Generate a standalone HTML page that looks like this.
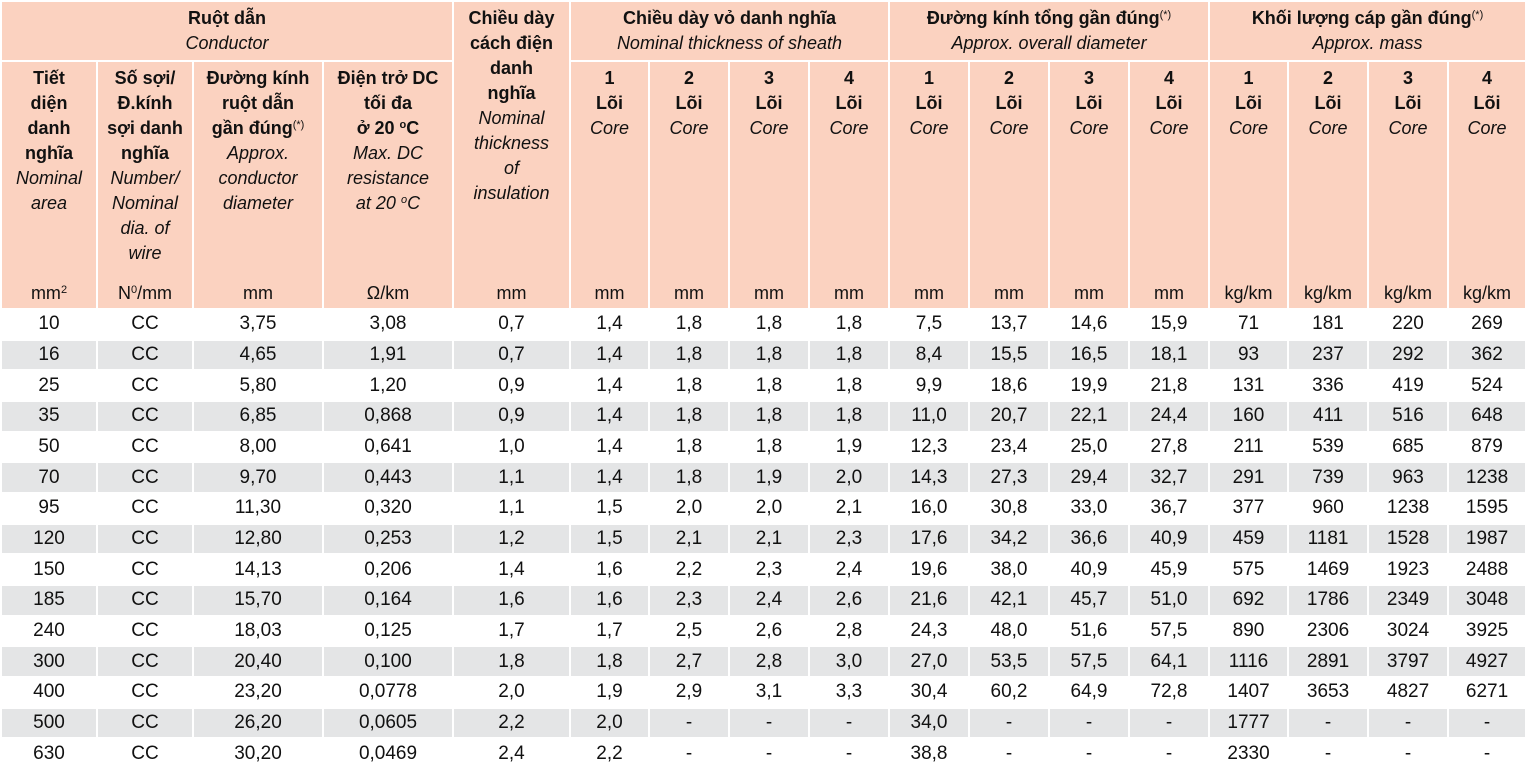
<!DOCTYPE html>
<html><head><meta charset="utf-8">
<style>
html,body{margin:0;padding:0;background:#fff;width:1525px;height:768px;overflow:hidden}
table{border-collapse:collapse;table-layout:fixed;width:1525px;font-family:"Liberation Sans",sans-serif;font-size:18px;color:#111}
td{border:2px solid #fff;text-align:center;padding:0;overflow:hidden;white-space:nowrap}
thead td{background:#fbd2c0;vertical-align:top;line-height:25px}
.h1 td{height:54px;padding-top:4px}
.h2 td{height:212px;padding-top:4px;border-bottom-style:hidden}
.h3 td{height:30px;border-top-style:hidden;vertical-align:middle;line-height:30px}
b{font-weight:bold}
i{font-style:italic}
sup{font-size:11px;vertical-align:6px;line-height:0}
tbody td{height:28.67px;line-height:26px;font-size:19px}
tbody tr:nth-child(even) td{background:#e4e5e6}
</style></head><body>
<table>
<colgroup>
<col style="width:96px"><col style="width:96px"><col style="width:130px"><col style="width:130px"><col style="width:117px">
<col style="width:79px"><col style="width:80px"><col style="width:80px"><col style="width:80px">
<col style="width:80px"><col style="width:80px"><col style="width:80px"><col style="width:80px">
<col style="width:79px"><col style="width:80px"><col style="width:80px"><col style="width:78px">
</colgroup>
<thead>
<tr class="h1">
<td colspan="4"><b>Ruột dẫn</b><br><i>Conductor</i></td>
<td rowspan="2" style="border-bottom-style:hidden"><b>Chiều dày<br>cách điện<br>danh<br>nghĩa</b><br><i>Nominal<br>thickness<br>of<br>insulation</i></td>
<td colspan="4"><b>Chiều dày vỏ danh nghĩa</b><br><i>Nominal thickness of sheath</i></td>
<td colspan="4"><b>Đường kính tổng gần đúng</b><sup>(*)</sup><br><i>Approx. overall diameter</i></td>
<td colspan="4"><b>Khối lượng cáp gần đúng</b><sup>(*)</sup><br><i>Approx. mass</i></td>
</tr>
<tr class="h2">
<td><b>Tiết<br>diện<br>danh<br>nghĩa</b><br><i>Nominal<br>area</i></td>
<td><b>Số sợi/<br>Đ.kính<br>sợi danh<br>nghĩa</b><br><i>Number/<br>Nominal<br>dia. of<br>wire</i></td>
<td><b>Đường kính<br>ruột dẫn<br>gần đúng</b><sup>(*)</sup><br><i>Approx.<br>conductor<br>diameter</i></td>
<td><b>Điện trở DC<br>tối đa<br>ở 20 <sup>o</sup>C</b><br><i>Max. DC<br>resistance<br>at 20 <sup>o</sup>C</i></td>
<td><b>1<br>Lõi</b><br><i>Core</i></td><td><b>2<br>Lõi</b><br><i>Core</i></td><td><b>3<br>Lõi</b><br><i>Core</i></td><td><b>4<br>Lõi</b><br><i>Core</i></td>
<td><b>1<br>Lõi</b><br><i>Core</i></td><td><b>2<br>Lõi</b><br><i>Core</i></td><td><b>3<br>Lõi</b><br><i>Core</i></td><td><b>4<br>Lõi</b><br><i>Core</i></td>
<td><b>1<br>Lõi</b><br><i>Core</i></td><td><b>2<br>Lõi</b><br><i>Core</i></td><td><b>3<br>Lõi</b><br><i>Core</i></td><td><b>4<br>Lõi</b><br><i>Core</i></td>
</tr>
<tr class="h3">
<td>mm<sup>2</sup></td><td>N<sup>0</sup>/mm</td><td>mm</td><td>Ω/km</td><td>mm</td>
<td>mm</td><td>mm</td><td>mm</td><td>mm</td>
<td>mm</td><td>mm</td><td>mm</td><td>mm</td>
<td>kg/km</td><td>kg/km</td><td>kg/km</td><td>kg/km</td>
</tr>
</thead>
<tbody>
<tr><td>10</td><td>CC</td><td>3,75</td><td>3,08</td><td>0,7</td><td>1,4</td><td>1,8</td><td>1,8</td><td>1,8</td><td>7,5</td><td>13,7</td><td>14,6</td><td>15,9</td><td>71</td><td>181</td><td>220</td><td>269</td></tr>
<tr><td>16</td><td>CC</td><td>4,65</td><td>1,91</td><td>0,7</td><td>1,4</td><td>1,8</td><td>1,8</td><td>1,8</td><td>8,4</td><td>15,5</td><td>16,5</td><td>18,1</td><td>93</td><td>237</td><td>292</td><td>362</td></tr>
<tr><td>25</td><td>CC</td><td>5,80</td><td>1,20</td><td>0,9</td><td>1,4</td><td>1,8</td><td>1,8</td><td>1,8</td><td>9,9</td><td>18,6</td><td>19,9</td><td>21,8</td><td>131</td><td>336</td><td>419</td><td>524</td></tr>
<tr><td>35</td><td>CC</td><td>6,85</td><td>0,868</td><td>0,9</td><td>1,4</td><td>1,8</td><td>1,8</td><td>1,8</td><td>11,0</td><td>20,7</td><td>22,1</td><td>24,4</td><td>160</td><td>411</td><td>516</td><td>648</td></tr>
<tr><td>50</td><td>CC</td><td>8,00</td><td>0,641</td><td>1,0</td><td>1,4</td><td>1,8</td><td>1,8</td><td>1,9</td><td>12,3</td><td>23,4</td><td>25,0</td><td>27,8</td><td>211</td><td>539</td><td>685</td><td>879</td></tr>
<tr><td>70</td><td>CC</td><td>9,70</td><td>0,443</td><td>1,1</td><td>1,4</td><td>1,8</td><td>1,9</td><td>2,0</td><td>14,3</td><td>27,3</td><td>29,4</td><td>32,7</td><td>291</td><td>739</td><td>963</td><td>1238</td></tr>
<tr><td>95</td><td>CC</td><td>11,30</td><td>0,320</td><td>1,1</td><td>1,5</td><td>2,0</td><td>2,0</td><td>2,1</td><td>16,0</td><td>30,8</td><td>33,0</td><td>36,7</td><td>377</td><td>960</td><td>1238</td><td>1595</td></tr>
<tr><td>120</td><td>CC</td><td>12,80</td><td>0,253</td><td>1,2</td><td>1,5</td><td>2,1</td><td>2,1</td><td>2,3</td><td>17,6</td><td>34,2</td><td>36,6</td><td>40,9</td><td>459</td><td>1181</td><td>1528</td><td>1987</td></tr>
<tr><td>150</td><td>CC</td><td>14,13</td><td>0,206</td><td>1,4</td><td>1,6</td><td>2,2</td><td>2,3</td><td>2,4</td><td>19,6</td><td>38,0</td><td>40,9</td><td>45,9</td><td>575</td><td>1469</td><td>1923</td><td>2488</td></tr>
<tr><td>185</td><td>CC</td><td>15,70</td><td>0,164</td><td>1,6</td><td>1,6</td><td>2,3</td><td>2,4</td><td>2,6</td><td>21,6</td><td>42,1</td><td>45,7</td><td>51,0</td><td>692</td><td>1786</td><td>2349</td><td>3048</td></tr>
<tr><td>240</td><td>CC</td><td>18,03</td><td>0,125</td><td>1,7</td><td>1,7</td><td>2,5</td><td>2,6</td><td>2,8</td><td>24,3</td><td>48,0</td><td>51,6</td><td>57,5</td><td>890</td><td>2306</td><td>3024</td><td>3925</td></tr>
<tr><td>300</td><td>CC</td><td>20,40</td><td>0,100</td><td>1,8</td><td>1,8</td><td>2,7</td><td>2,8</td><td>3,0</td><td>27,0</td><td>53,5</td><td>57,5</td><td>64,1</td><td>1116</td><td>2891</td><td>3797</td><td>4927</td></tr>
<tr><td>400</td><td>CC</td><td>23,20</td><td>0,0778</td><td>2,0</td><td>1,9</td><td>2,9</td><td>3,1</td><td>3,3</td><td>30,4</td><td>60,2</td><td>64,9</td><td>72,8</td><td>1407</td><td>3653</td><td>4827</td><td>6271</td></tr>
<tr><td>500</td><td>CC</td><td>26,20</td><td>0,0605</td><td>2,2</td><td>2,0</td><td>-</td><td>-</td><td>-</td><td>34,0</td><td>-</td><td>-</td><td>-</td><td>1777</td><td>-</td><td>-</td><td>-</td></tr>
<tr><td>630</td><td>CC</td><td>30,20</td><td>0,0469</td><td>2,4</td><td>2,2</td><td>-</td><td>-</td><td>-</td><td>38,8</td><td>-</td><td>-</td><td>-</td><td>2330</td><td>-</td><td>-</td><td>-</td></tr>
</tbody>
</table>
</body></html>
